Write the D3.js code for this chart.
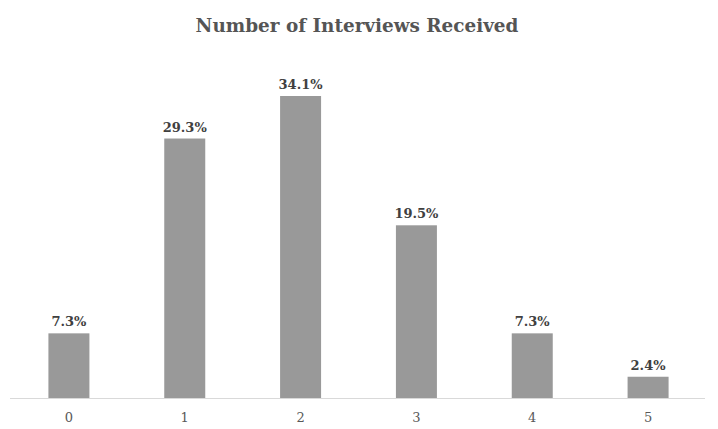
<!DOCTYPE html>
<html><head><meta charset="utf-8">
<script src="https://cdn.jsdelivr.net/npm/d3@7"></script>
<style>body{margin:0;background:#fff}svg{display:block}</style>
</head><body>
<script>
const categories = ["0","1","2","3","4","5"];
const values = [7.3, 29.3, 34.1, 19.5, 7.3, 2.4];
const labels = ["7.3%","29.3%","34.1%","19.5%","7.3%","2.4%"];
const title = "Number of Interviews Received";

const W = 718, H = 429;
const svg = d3.select("body").append("svg").attr("width", W).attr("height", H);
const font = "Georgia, 'DejaVu Serif', serif";

const x = d3.scaleBand().domain(categories).range([11, 706]).padding(0);
const y = d3.scaleLinear().domain([0, 34.1]).range([398, 96]);
const bw = 41;

svg.append("text").attr("x", 357).attr("y", 32).attr("text-anchor", "middle")
  .attr("font-family", font).attr("font-weight", "bold").attr("font-size", 18.4)
  .attr("fill", "#555555").text(title);

svg.append("g").selectAll("rect").data(values).join("rect")
  .attr("x", (d, i) => x(categories[i]) + x.bandwidth() / 2 - bw / 2)
  .attr("y", d => y(d)).attr("width", bw).attr("height", d => y(0) - y(d))
  .attr("fill", "#999999");

svg.append("g").selectAll("text").data(values).join("text")
  .attr("x", (d, i) => x(categories[i]) + x.bandwidth() / 2)
  .attr("y", d => y(d) - 7).attr("text-anchor", "middle")
  .attr("font-family", font).attr("font-weight", "bold").attr("font-size", 13)
  .attr("fill", "#404040").text((d, i) => labels[i]);

svg.append("line").attr("x1", 10).attr("x2", 705).attr("y1", 398.5).attr("y2", 398.5)
  .attr("stroke", "#d9d9d9");
const ax = svg.append("g").attr("transform", "translate(0,398)")
  .call(d3.axisBottom(x).tickSize(0).tickPadding(15));
ax.select(".domain").remove();
ax.selectAll("text").attr("font-family", font).attr("font-size", 13).attr("fill", "#595959");
</script>
</body></html>
